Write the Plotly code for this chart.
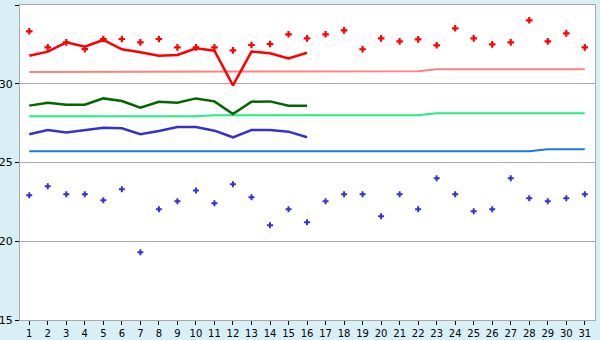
import plotly.graph_objects as go

days = list(range(1, 32))
days16 = list(range(1, 17))

red_points = [33.33, 32.31, 32.63, 32.2, 32.84, 32.84, 32.63, 32.84, 32.31, 32.31,
              32.31, 32.12, 32.46, 32.52, 33.14, 32.88, 33.14, 33.39, 32.19, 32.88,
              32.69, 32.82, 32.44, 33.52, 32.88, 32.5, 32.63, 34.03, 32.69, 33.2, 32.31]
blue_points = [22.92, 23.49, 22.98, 22.98, 22.6, 23.3, 19.3, 22.03, 22.54, 23.23,
               22.41, 23.62, 22.79, 21.01, 22.03, 21.2, 22.54, 22.98, 22.98, 21.58,
               22.98, 22.03, 24.0, 22.98, 21.9, 22.03, 24.0, 22.73, 22.54, 22.73, 22.98]

red_line = [31.78, 32.04, 32.63, 32.35, 32.78, 32.19, 32.0, 31.78, 31.83, 32.25,
            32.1, 29.9, 32.04, 31.93, 31.61, 31.97]
green_line = [28.61, 28.8, 28.67, 28.67, 29.07, 28.9, 28.48, 28.86, 28.8, 29.07,
              28.88, 28.08, 28.86, 28.88, 28.6, 28.6]
blue_line = [26.79, 27.06, 26.91, 27.04, 27.21, 27.17, 26.79, 27.0, 27.25, 27.25,
             27.02, 26.6, 27.06, 27.06, 26.96, 26.6]

pink_ref = [30.75]*10 + [30.79]*12 + [30.92]*9
lgreen_ref = [27.93]*10 + [28.0]*12 + [28.12]*9
lblue_ref = [25.71]*28 + [25.84]*3

y_ticks = [15, 20, 25, 30, 35]

fig = go.Figure()
fig.add_trace(go.Scatter(x=days, y=pink_ref, mode="lines", line=dict(color="#FF8080", width=2)))
fig.add_trace(go.Scatter(x=days, y=lgreen_ref, mode="lines", line=dict(color="#20F080", width=2)))
fig.add_trace(go.Scatter(x=days, y=lblue_ref, mode="lines", line=dict(color="#1E78DC", width=2)))
fig.add_trace(go.Scatter(x=days16, y=red_line, mode="lines", line=dict(color="#FF0000", width=2.5)))
fig.add_trace(go.Scatter(x=days16, y=green_line, mode="lines", line=dict(color="#006600", width=2.5)))
fig.add_trace(go.Scatter(x=days16, y=blue_line, mode="lines", line=dict(color="#3333CC", width=2.5)))
fig.add_trace(go.Scatter(x=days, y=red_points, mode="markers",
                         marker=dict(symbol="cross", size=5.5, color="#FF0000")))
fig.add_trace(go.Scatter(x=days, y=blue_points, mode="markers",
                         marker=dict(symbol="cross", size=5, color="#3333CC")))

fig.update_layout(
    width=600, height=340,
    margin=dict(l=20, r=5, t=5, b=20),
    paper_bgcolor="#D9EFF6",
    plot_bgcolor="#FFFFFF",
    showlegend=False,
    font=dict(family="DejaVu Sans", size=11, color="#000000"),
)
fig.update_xaxes(range=[0.5, 31.55], tickmode="array", tickvals=days,
                 ticktext=[str(d) for d in days], ticks="outside", ticklen=4,
                 tickcolor="#000000", showgrid=False, zeroline=False,
                 showline=True, linecolor="#AAAAAA", linewidth=1, mirror=True,
                 tickfont=dict(size=10), automargin=False)
fig.update_yaxes(range=[15, 35], tickmode="array", tickvals=y_ticks,
                 ticks="outside", ticklen=4, tickcolor="#000000",
                 showgrid=True, gridcolor="#AAAAAA", gridwidth=1, zeroline=False,
                 showline=True, linecolor="#AAAAAA", linewidth=1, mirror=True,
                 tickfont=dict(size=11), automargin=False)

fig.write_html("out.html")
